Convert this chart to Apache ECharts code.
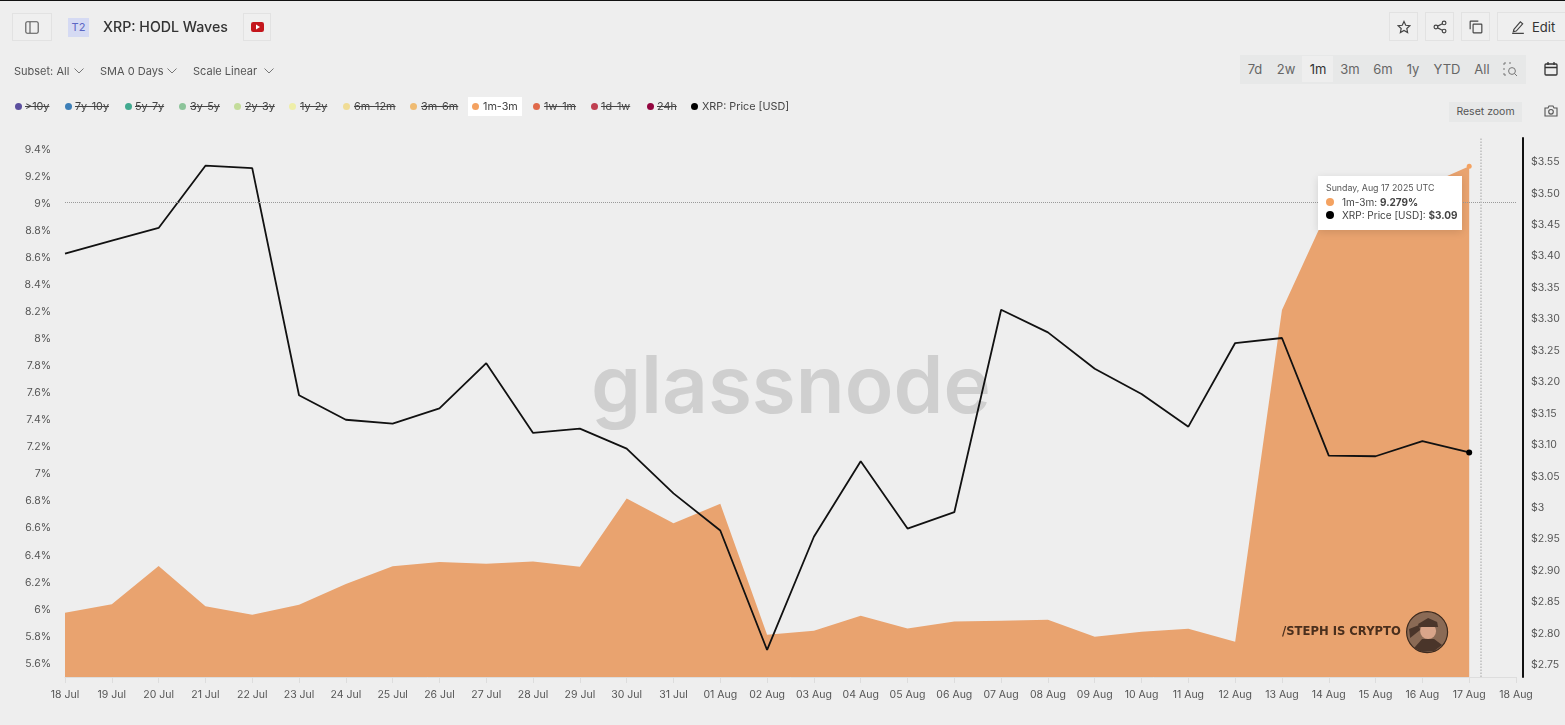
<!DOCTYPE html>
<html>
<head>
<meta charset="utf-8">
<title>XRP: HODL Waves</title>
<script src="https://cdn.jsdelivr.net/npm/echarts@6/dist/echarts.min.js"></script>
<style>
  html, body { margin: 0; padding: 0; width: 1565px; height: 725px; overflow: hidden; background: #eeeeee; }
  body { font-family: Inter, "Noto Sans", sans-serif; color: #444; position: relative; }
  #chart { position: absolute; left: 0; top: 0; width: 1565px; height: 725px; }
  .abs { position: absolute; white-space: nowrap; }
  .btn { position: absolute; border: 1px solid #e2e2e2; background: #efefef; box-sizing: border-box; display: flex; align-items: center; justify-content: center; }
  .sel { position: absolute; top: 64px; font-size: 11px; line-height: 14px; color: #555; white-space: nowrap; }
  .lg { position: absolute; top: 100px; font-size: 10.8px; line-height: 14px; color: #444; text-decoration: line-through; white-space: nowrap; }
  .lg.on { text-decoration: none; }
  .dot { position: absolute; top: 103px; width: 7px; height: 7px; border-radius: 50%; }
  .rng { position: absolute; top: 62px; font-size: 13px; line-height: 15px; color: #666; transform: translateX(-50%); white-space: nowrap; }
</style>
</head>
<body>
<div id="chart"></div>
<div class="abs" style="left:0;top:0;width:1565px;height:1px;background:#111"></div>

<div class="btn" style="left:12px;top:13px;width:40px;height:28px">
  <svg width="14" height="13" viewBox="0 0 14 13" fill="none" stroke="#555" stroke-width="1.1"><rect x="0.8" y="0.8" width="12.4" height="11.4" rx="1.5"/><line x1="5" y1="1" x2="5" y2="12"/></svg>
</div>
<div class="abs" style="left:68px;top:18px;width:21px;height:19px;background:#d5daf3;color:#5a66c4;font-size:11px;line-height:19px;text-align:center">T2</div>
<div class="abs" style="left:103px;top:18px;font-size:14.2px;line-height:18px;font-weight:500;color:#333">XRP: HODL Waves</div>
<div class="btn" style="left:243px;top:13px;width:28px;height:28px">
  <svg width="13" height="10" viewBox="0 0 13 10"><rect width="13" height="10" rx="2.2" fill="#c4161c"/><path d="M5 2.6 L9 5 L5 7.4 Z" fill="#fff"/></svg>
</div>

<div class="sel" style="left:14px">Subset: All</div>
<div class="sel" style="left:100px">SMA 0 Days</div>
<div class="sel" style="left:193px">Scale Linear</div>
<svg class="abs" style="left:74px;top:68px" width="10" height="6" fill="none" stroke="#777"><path d="M0.5 0.5 L5 5 L9.5 0.5"/></svg>
<svg class="abs" style="left:167px;top:68px" width="10" height="6" fill="none" stroke="#777"><path d="M0.5 0.5 L5 5 L9.5 0.5"/></svg>
<svg class="abs" style="left:264px;top:68px" width="10" height="6" fill="none" stroke="#777"><path d="M0.5 0.5 L5 5 L9.5 0.5"/></svg>

<div id="legend"></div>

<div class="btn" style="left:1389px;top:12px;width:29px;height:29px">
  <svg width="14" height="14" viewBox="0 0 24 24" fill="none" stroke="#444" stroke-width="2"><path d="M12 2.5 L15 9 L22 9.8 L16.8 14.5 L18.2 21.5 L12 18 L5.8 21.5 L7.2 14.5 L2 9.8 L9 9 Z"/></svg>
</div>
<div class="btn" style="left:1425px;top:12px;width:29px;height:29px">
  <svg width="14" height="14" viewBox="0 0 24 24" fill="none" stroke="#444" stroke-width="2"><circle cx="5" cy="12" r="3.2"/><circle cx="19" cy="5" r="3.2"/><circle cx="19" cy="19" r="3.2"/><path d="M8 10.5 L16 6.5 M8 13.5 L16 17.5"/></svg>
</div>
<div class="btn" style="left:1461px;top:12px;width:29px;height:29px">
  <svg width="14" height="14" viewBox="0 0 24 24" fill="none" stroke="#444" stroke-width="2"><rect x="7" y="7" width="15" height="15" rx="1"/><path d="M2 16 V3 Q2 2 3 2 H16"/></svg>
</div>
<div class="btn" style="left:1497px;top:12px;width:80px;height:29px;justify-content:flex-start;padding-left:13px;font-size:13px;color:#333">
  <svg width="14" height="14" viewBox="0 0 24 24" fill="none" stroke="#444" stroke-width="2" style="margin-right:7px"><path d="M5 16 L16 3 L20 6.5 L9 19 L4 20 Z M2 23 H22"/></svg>Edit
</div>

<div class="abs" style="left:1240px;top:55px;width:286px;height:29px;background:#e7e8e8"></div>
<div class="abs" style="left:1302px;top:56px;width:31px;height:26px;background:#eeeeee"></div>
<div id="ranges"></div>
<svg class="abs" style="left:1503px;top:62px" width="15" height="15" viewBox="0 0 15 15" fill="none" stroke="#777" stroke-width="1"><path d="M1 3 V1 H3 M6 1 H8 M1 6 V8 M1 11 V13 H3"/><circle cx="9" cy="9" r="3.4"/><path d="M11.5 11.5 L14 14"/></svg>
<svg class="abs" style="left:1544px;top:62px" width="14" height="14" viewBox="0 0 14 14" fill="none" stroke="#333" stroke-width="1.3"><rect x="1" y="2" width="12" height="11" rx="1"/><path d="M1 5.5 H13 M4 0 V3 M10 0 V3"/></svg>
<div class="abs" style="left:1449px;top:102px;width:73px;height:20px;background:#e7e8e8;color:#555;font-size:10.5px;line-height:20px;text-align:center">Reset zoom</div>
<svg class="abs" style="left:1544px;top:105px" width="14" height="12" viewBox="0 0 14 12" fill="none" stroke="#555" stroke-width="1.1"><path d="M1 3 H4 L5 1 H9 L10 3 H13 V11 H1 Z"/><circle cx="7" cy="6.8" r="2.3"/></svg>

<script>
// legend and range buttons
const legendNames = [">10y", "7y-10y", "5y-7y", "3y-5y", "2y-3y", "1y-2y", "6m-12m", "3m-6m", "1m-3m", "1w-1m", "1d-1w", "24h", "XRP: Price [USD]"];
const rangeNames = ["7d", "2w", "1m", "3m", "6m", "1y", "YTD", "All"];

// values, one per day from 18 Jul to 17 Aug 2025
const days = ["2025-07-18", "2025-07-19", "2025-07-20", "2025-07-21", "2025-07-22", "2025-07-23", "2025-07-24", "2025-07-25", "2025-07-26", "2025-07-27", "2025-07-28", "2025-07-29", "2025-07-30", "2025-07-31", "2025-08-01", "2025-08-02", "2025-08-03", "2025-08-04", "2025-08-05", "2025-08-06", "2025-08-07", "2025-08-08", "2025-08-09", "2025-08-10", "2025-08-11", "2025-08-12", "2025-08-13", "2025-08-14", "2025-08-15", "2025-08-16", "2025-08-17"];
const wave1m3m = [5.975, 6.039, 6.322, 6.024, 5.96, 6.034, 6.189, 6.32, 6.35, 6.337, 6.354, 6.315, 6.82, 6.638, 6.781, 5.812, 5.842, 5.953, 5.859, 5.911, 5.916, 5.923, 5.797, 5.834, 5.857, 5.76, 8.216, 8.97, 9.05, 9.126, 9.279];
const xrpPrice = [3.404, 3.425, 3.445, 3.544, 3.54, 3.179, 3.14, 3.134, 3.158, 3.23, 3.119, 3.126, 3.094, 3.023, 2.964, 2.774, 2.954, 3.074, 2.967, 2.993, 3.315, 3.279, 3.221, 3.181, 3.129, 3.262, 3.27, 3.083, 3.082, 3.106, 3.088];

// tick labels
const dayTicks = days.concat(["2025-08-18"]);
const pctTicks = [5.6, 5.8, 6, 6.2, 6.4, 6.6, 6.8, 7, 7.2, 7.4, 7.6, 7.8, 8, 8.2, 8.4, 8.6, 8.8, 9, 9.2, 9.4];
const priceTicks = [2.75, 2.8, 2.85, 2.9, 2.95, 3, 3.05, 3.1, 3.15, 3.2, 3.25, 3.3, 3.35, 3.4, 3.45, 3.5, 3.55];

const legendColors = ["#5b4f9e", "#3d7fb8", "#41a98f", "#8cc49a", "#c3dc9a", "#eeeea8", "#f0dc95", "#efbb72", "#f4a261", "#e0694a", "#bf3f50", "#93063f", "#000000"];
const legendDotX = [15, 65, 125, 179, 234, 289, 343, 410, 472, 533, 591, 647, 691];
const legendTextX = [25, 75, 135, 190, 245, 300, 354, 421, 483, 544, 601, 657, 702];
const rangeX = [1255, 1286, 1318, 1350, 1383, 1413, 1447, 1482];

const mon = ["Jan", "Feb", "Mar", "Apr", "May", "Jun", "Jul", "Aug", "Sep", "Oct", "Nov", "Dec"];
const ts = (d) => new Date(d + "T00:00:00Z").getTime();
const lastIdx = days.length - 1;
const cursorTime = ts("2025-08-17") + 6 * 3600 * 1000;
const cursorPct = 9.005;

let legendHtml = '<div class="abs" style="left:468px;top:97px;width:54px;height:19px;background:#fff"></div>';
legendNames.forEach((n, i) => {
  const on = n === "1m-3m" || n.indexOf("XRP") === 0;
  legendHtml += '<div class="dot" style="left:' + legendDotX[i] + "px;background:" + legendColors[i] + '"></div>';
  legendHtml += '<div class="lg' + (on ? " on" : "") + '" style="left:' + legendTextX[i] + 'px">' + n.replace(">", "&gt;") + "</div>";
});
document.getElementById("legend").innerHTML = legendHtml;
document.getElementById("ranges").innerHTML = rangeNames.map((n, i) =>
  '<div class="rng" style="left:' + rangeX[i] + "px" + (n === "1m" ? ";color:#333" : "") + '">' + n + "</div>").join("");

const myChart = echarts.init(document.getElementById("chart"));

const tipRow = (color, name, val) =>
  '<div style="line-height:13px;white-space:nowrap"><span style="display:inline-block;width:8px;height:8px;border-radius:50%;background:' + color +
  ';margin-right:8px"></span>' + name + ": <b>" + val + "</b></div>";

myChart.setOption({
  animation: false,
  textStyle: { fontFamily: "Inter" },
  grid: { left: 65, right: 49, top: 138, bottom: 48 },
  tooltip: {
    trigger: "item",
    triggerOn: "none",
    alwaysShowContent: true,
    position: [1318, 176],
    padding: [6, 8, 8, 8],
    backgroundColor: "#ffffff",
    borderWidth: 0,
    borderRadius: 0,
    textStyle: { fontFamily: "Inter", fontSize: 10, color: "#444" },
    extraCssText: "box-shadow:0 2px 8px rgba(0,0,0,0.12);width:144px;box-sizing:border-box;height:54px;",
    formatter: () =>
      '<div style="font-size:8.8px;color:#555;line-height:12px;margin-bottom:2px">Sunday, Aug 17 2025 UTC</div>' +
      tipRow("#f4a261", "1m-3m", wave1m3m[lastIdx].toFixed(3) + "%") +
      tipRow("#000000", "XRP: Price [USD]", "$" + xrpPrice[lastIdx].toFixed(2)),
  },
  xAxis: {
    type: "value",
    min: ts("2025-07-18"),
    max: ts("2025-08-18"),
    axisLine: { onZero: false, lineStyle: { color: "#dddddd", width: 1 } },
    axisTick: { length: 6, lineStyle: { color: "#dddddd" }, customValues: dayTicks.map(ts) },
    splitLine: { show: false },
    axisLabel: {
      customValues: dayTicks.map(ts),
      margin: 12,
      fontSize: 10.5,
      color: "#555",
      formatter: (v) => {
        const d = new Date(v);
        return String(d.getUTCDate()).padStart(2, "0") + " " + mon[d.getUTCMonth()];
      },
    },
  },
  yAxis: [
    {
      type: "value",
      min: 5.5,
      max: 9.488,
      splitLine: { show: false },
      axisLine: { show: false },
      axisTick: { show: false },
      axisLabel: { customValues: pctTicks, margin: 14, fontSize: 10.5, color: "#555", formatter: (v) => v + "%" },
    },
    {
      type: "value",
      position: "right",
      offset: 7,
      min: 2.731,
      max: 3.588,
      splitLine: { show: false },
      axisLine: { show: true, lineStyle: { color: "#111111", width: 2 } },
      axisTick: { show: false },
      axisLabel: {
        customValues: priceTicks,
        margin: 8,
        fontSize: 10.5,
        color: "#555",
        formatter: (v) => (v === 3 ? "$3" : "$" + v.toFixed(2)),
      },
    },
  ],
  series: [
    {
      name: "1m-3m",
      type: "line",
      yAxisIndex: 0,
      data: days.map((d, i) => [ts(d), wave1m3m[i]]),
      symbol: "circle",
      showSymbol: true,
      symbolSize: (v, p) => (p.dataIndex === lastIdx ? 5 : 0),
      itemStyle: { color: "#f4a261" },
      lineStyle: { width: 0 },
      areaStyle: { color: "#e9a36f", opacity: 1, origin: "start" },
      z: 2,
      markLine: {
        silent: true,
        symbol: "none",
        animation: false,
        label: { show: false },
        lineStyle: { color: "#9a9a9a", type: "dotted", width: 1 },
        data: [{ yAxis: cursorPct }, { xAxis: cursorTime, lineStyle: { color: "#bdbdbd", type: "dotted", width: 1.5 } }],
      },
    },
    {
      name: "XRP: Price [USD]",
      type: "line",
      yAxisIndex: 1,
      data: days.map((d, i) => [ts(d), xrpPrice[i]]),
      symbol: "circle",
      showSymbol: true,
      symbolSize: (v, p) => (p.dataIndex === lastIdx ? 6 : 0),
      itemStyle: { color: "#000000" },
      lineStyle: { color: "#111111", width: 1.8 },
      z: 4,
    },
  ],
  graphic: [
    {
      type: "text",
      z: -1,
      left: 591,
      top: 349,
      style: { text: "glassnode", fontFamily: "Inter", fontSize: 80, fontWeight: 600, fill: "#cfcfcf" },
    },
    {
      type: "text",
      z: 5,
      left: 1282,
      top: 626,
      style: { text: "/STEPH IS CRYPTO", fontFamily: "DejaVu Sans", fontSize: 11.6, fontWeight: "bold", fill: "#4a2f1d" },
    },
    {
      type: "group",
      left: 1406,
      top: 611,
      children: [
        { type: "circle", z: 5, shape: { cx: 21, cy: 21, r: 20.5 }, style: { fill: "#8a6a55", stroke: "#3d2a1e", lineWidth: 1.2 } },
        { type: "circle", z: 6, shape: { cx: 22, cy: 20, r: 8 }, style: { fill: "#d9a58a" } },
        { type: "polygon", z: 6, shape: { points: [[12, 13], [22, 7], [31, 11], [32, 16], [13, 16]] }, style: { fill: "#4a352a" } },
        { type: "polygon", z: 6, shape: { points: [[3, 18], [13, 14], [14, 19], [4, 27]] }, style: { fill: "#4a352a" } },
        { type: "polygon", z: 6, shape: { points: [[8, 37], [16, 28], [28, 28], [36, 34], [28, 40], [16, 41]] }, style: { fill: "#4a352a" } },
      ],
    },
  ],
});

myChart.dispatchAction({ type: "showTip", seriesIndex: 0, dataIndex: lastIdx });
</script>
</body>
</html>
